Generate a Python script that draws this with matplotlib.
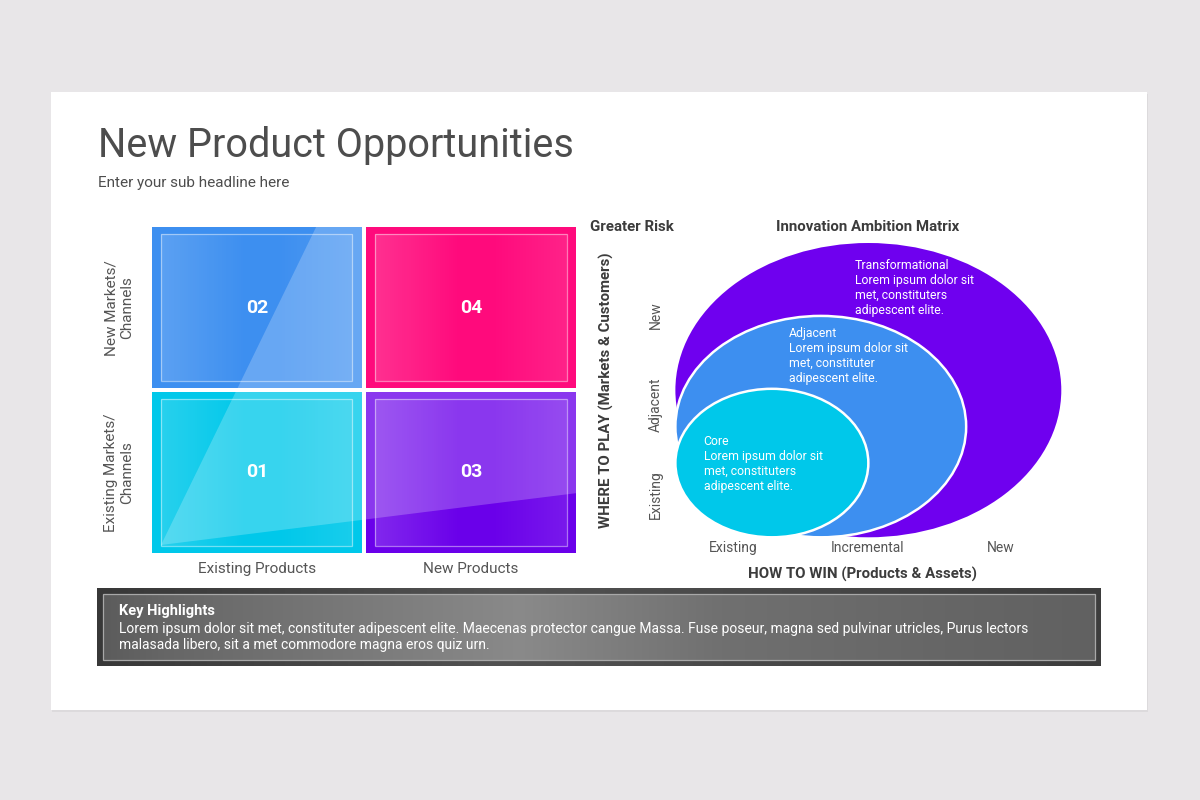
import numpy as np
import matplotlib.pyplot as plt
from matplotlib.patches import Rectangle, Ellipse, Polygon

plt.rcParams["font.family"] = ["Roboto", "DejaVu Sans"]

# -------------------------
# DATA
# -------------------------
TITLE = "New Product Opportunities"
SUBTITLE = "Enter your sub headline here"

matrix_cols = ["Existing Products", "New Products"]
matrix_rows = ["Existing Markets/\nChannels", "New Markets/\nChannels"]
quad_numbers = [["01", "03"], ["02", "04"]]          # row 0 = existing markets
quad_colors = [["#00c8ea", "#6a00ea"], ["#3d8ff0", "#ff0a7c"]]

win_levels = ["Existing", "Incremental", "New"]      # HOW TO WIN
play_levels = ["Existing", "Adjacent", "New"]        # WHERE TO PLAY
ring_names = ["Core", "Adjacent", "Transformational"]
ring_texts = [
    "Lorem ipsum dolor sit\nmet, constituters\nadipescent elite.",
    "Lorem ipsum dolor sit\nmet, constituter\nadipescent elite.",
    "Lorem ipsum dolor sit\nmet, constituters\nadipescent elite.",
]
ring_x_reach = [1.51, 2.24, 2.95]
ring_y_reach = [1.68, 2.49, 3.30]
ring_colors = ["#00c8ea", "#3d8ff0", "#6f00ef"]

HIGHLIGHT_TITLE = "Key Highlights"
HIGHLIGHT_TEXT = (
    "Lorem ipsum dolor sit met, constituter adipescent elite. Maecenas protector cangue Massa. "
    "Fuse poseur, magna sed pulvinar utricles, Purus lectors\n"
    "malasada libero, sit a met commodore magna eros quiz urn."
)

# -------------------------
# LAYOUT (pixels on 1200 x 800)
# -------------------------
FIG_W, FIG_H = 1200, 800
SLIDE = (51, 92, 1147, 710)
MATRIX_BOX = (149.7, 225.3, 578.0, 554.7)     # left, top, right, bottom
RING_BOX = (666, 234, 1068, 540)
HL_BOX = (97, 588, 1101, 666)
HL_INSET = 6

BG = "#e8e6e8"
TXT = "#4d4d4d"
LBL = "#555555"
HEAD = "#3c3c3c"

RING_LEFT, RING_BOTTOM = 0.07, 0.03
ring_label_pos = [(0.28, 1.17), (0.92, 2.37), (1.41, 3.12)]
sheen_pts = [(0.053, 0.059), (0.781, 2.0), (2.0, 2.0), (2.0, 0.375)]
sheen_cells = [(0, 0), (0, 1), (1, 0)]


def px_axes(fig, box):
    l, t, r, b = box
    ax = fig.add_axes([l / FIG_W, 1 - b / FIG_H, (r - l) / FIG_W, (b - t) / FIG_H])
    ax.set_facecolor("none")
    for s in ax.spines.values():
        s.set_visible(False)
    return ax


fig = plt.figure(figsize=(12, 8), dpi=100, facecolor=BG)

# -------------------------
# BACKGROUND / SLIDE
# -------------------------
bg = fig.add_axes([0, 0, 1, 1])
bg.axis("off")
sl, st, sr, sb = SLIDE
bg.add_patch(Rectangle((sl + 1, st + 2), sr - sl, sb - st, facecolor="black", alpha=0.05, lw=0))
bg.add_patch(Rectangle((sl, st), sr - sl, sb - st, facecolor="white", lw=0))

bg.text(98, 157, TITLE, fontsize=28.5, color=TXT, va="baseline")
bg.text(98, 187.5, SUBTITLE, fontsize=11, color=TXT, va="baseline")

# key highlights box
l, t, r, b = HL_BOX
xs = np.linspace(0, 1, 400)
frame_gray = np.interp(xs, [0, 0.4, 1], [0.22, 0.32, 0.24])
fill_gray = np.interp(xs, [0, 0.06, 0.42, 0.62, 0.85, 1], [0.36, 0.40, 0.54, 0.44, 0.40, 0.38])
frame_img = np.repeat(frame_gray[None, :, None], 3, axis=2)
fill_img = np.repeat(fill_gray[None, :, None], 3, axis=2)
bg.imshow(frame_img, extent=(l, r, b, t), aspect="auto", interpolation="bilinear", zorder=2)
bg.imshow(fill_img, extent=(l + HL_INSET, r - HL_INSET, b - HL_INSET, t + HL_INSET),
          aspect="auto", interpolation="bilinear", zorder=3)
bg.add_patch(Rectangle((l + HL_INSET, t + HL_INSET), r - l - 2 * HL_INSET, b - t - 2 * HL_INSET,
                       fill=False, edgecolor="#a8a8a8", lw=0.9, zorder=4))
bg.text(119, 611, HIGHLIGHT_TITLE, fontsize=10.5, fontweight="bold", color="white", va="center", zorder=5)
bg.text(119, 621.5, HIGHLIGHT_TEXT, fontsize=10, color="white", va="top", linespacing=1.2, zorder=5)

bg.set_xlim(0, FIG_W)
bg.set_ylim(FIG_H, 0)

# -------------------------
# ANSOFF MATRIX
# -------------------------
mx = px_axes(fig, MATRIX_BOX)
unit_x = (MATRIX_BOX[2] - MATRIX_BOX[0]) / 2
unit_y = (MATRIX_BOX[3] - MATRIX_BOX[1]) / 2
gx, gy = 2 / unit_x, 2 / unit_y
ix, iy = 9.5 / unit_x, 7 / unit_y
fade = np.interp(np.linspace(0, 1, 300), [0, 0.45, 0.6, 1], [0.16, 0.0, 0.0, 0.10])
fade_img = np.ones((1, 300, 4))
fade_img[..., 3] = fade

for rr in range(len(matrix_rows)):
    for cc in range(len(matrix_cols)):
        cell = Rectangle((cc + gx, rr + gy), 1 - 2 * gx, 1 - 2 * gy,
                         facecolor=quad_colors[rr][cc], edgecolor="none", zorder=1)
        mx.add_patch(cell)
        x0, x1 = cc + gx + ix, cc + 1 - gx - ix
        y0, y1 = rr + gy + iy, rr + 1 - gy - iy
        mx.imshow(fade_img, extent=(x0, x1, y0, y1), aspect="auto",
                  interpolation="bilinear", zorder=2)
        if (rr, cc) in sheen_cells:
            sheen = Polygon(sheen_pts, closed=True, facecolor="white", alpha=0.22,
                            edgecolor="none", zorder=3)
            mx.add_patch(sheen)
            sheen.set_clip_path(cell)
        mx.add_patch(Rectangle((x0, y0), x1 - x0, y1 - y0, fill=False,
                               edgecolor=(1, 1, 1, 0.45), lw=0.9, zorder=4))
        mx.text(cc + 0.5, rr + 0.5, quad_numbers[rr][cc], ha="center", va="center",
                color="white", fontsize=14, fontweight="bold", zorder=5)

mx.set_xlim(0, 2)
mx.set_ylim(0, 2)
mx.set_xticks([0.5, 1.5], matrix_cols, fontsize=11, color=LBL)
mx.set_yticks([0.5, 1.5], matrix_rows, fontsize=11, color=LBL,
              rotation=90, va="center", ma="center")
mx.tick_params(length=0)
mx.tick_params(axis="x", pad=5)
mx.tick_params(axis="y", pad=11)

# -------------------------
# INNOVATION AMBITION MATRIX
# -------------------------
rx = px_axes(fig, RING_BOX)
for i in reversed(range(len(ring_names))):
    right, top = ring_x_reach[i], ring_y_reach[i]
    rx.add_patch(Ellipse(((RING_LEFT + right) / 2, (RING_BOTTOM + top) / 2),
                         right - RING_LEFT, top - RING_BOTTOM,
                         facecolor=ring_colors[i],
                         edgecolor="white" if i < len(ring_names) - 1 else "none",
                         lw=1.8, zorder=3 - i))
    lx, ly = ring_label_pos[i]
    rx.text(lx, ly, ring_names[i] + "\n" + ring_texts[i], color="white", fontsize=8.8,
            va="top", ha="left", linespacing=1.2, zorder=10)

rx.set_xlim(0, 3)
rx.set_ylim(0, 3.4)
rx.set_xticks([0.5, 1.5, 2.5], win_levels, fontsize=10, color=LBL)
rx.set_yticks([0.5, 1.5, 2.5], play_levels, fontsize=10, color=LBL,
              rotation=90, va="center")
rx.tick_params(length=0)
rx.tick_params(axis="x", pad=1)
rx.tick_params(axis="y", pad=2)

rx.text(-0.147, 0.49, "WHERE TO PLAY (Markets & Customers)", transform=rx.transAxes,
        rotation=90, ha="center", va="center", fontsize=10.8, fontweight="bold", color=HEAD)
rx.text(0.4876, -0.112, "HOW TO WIN (Products & Assets)", transform=rx.transAxes,
        ha="center", va="center", fontsize=10.8, fontweight="bold", color=HEAD)
rx.text(0.501, 1.023, "Innovation Ambition Matrix", transform=rx.transAxes,
        ha="center", va="center", fontsize=10.8, fontweight="bold", color=HEAD)
rx.text(-0.189, 1.023, "Greater Risk", transform=rx.transAxes,
        ha="left", va="center", fontsize=10.8, fontweight="bold", color=HEAD)

fig.savefig("out.png", dpi=100, facecolor=fig.get_facecolor())
